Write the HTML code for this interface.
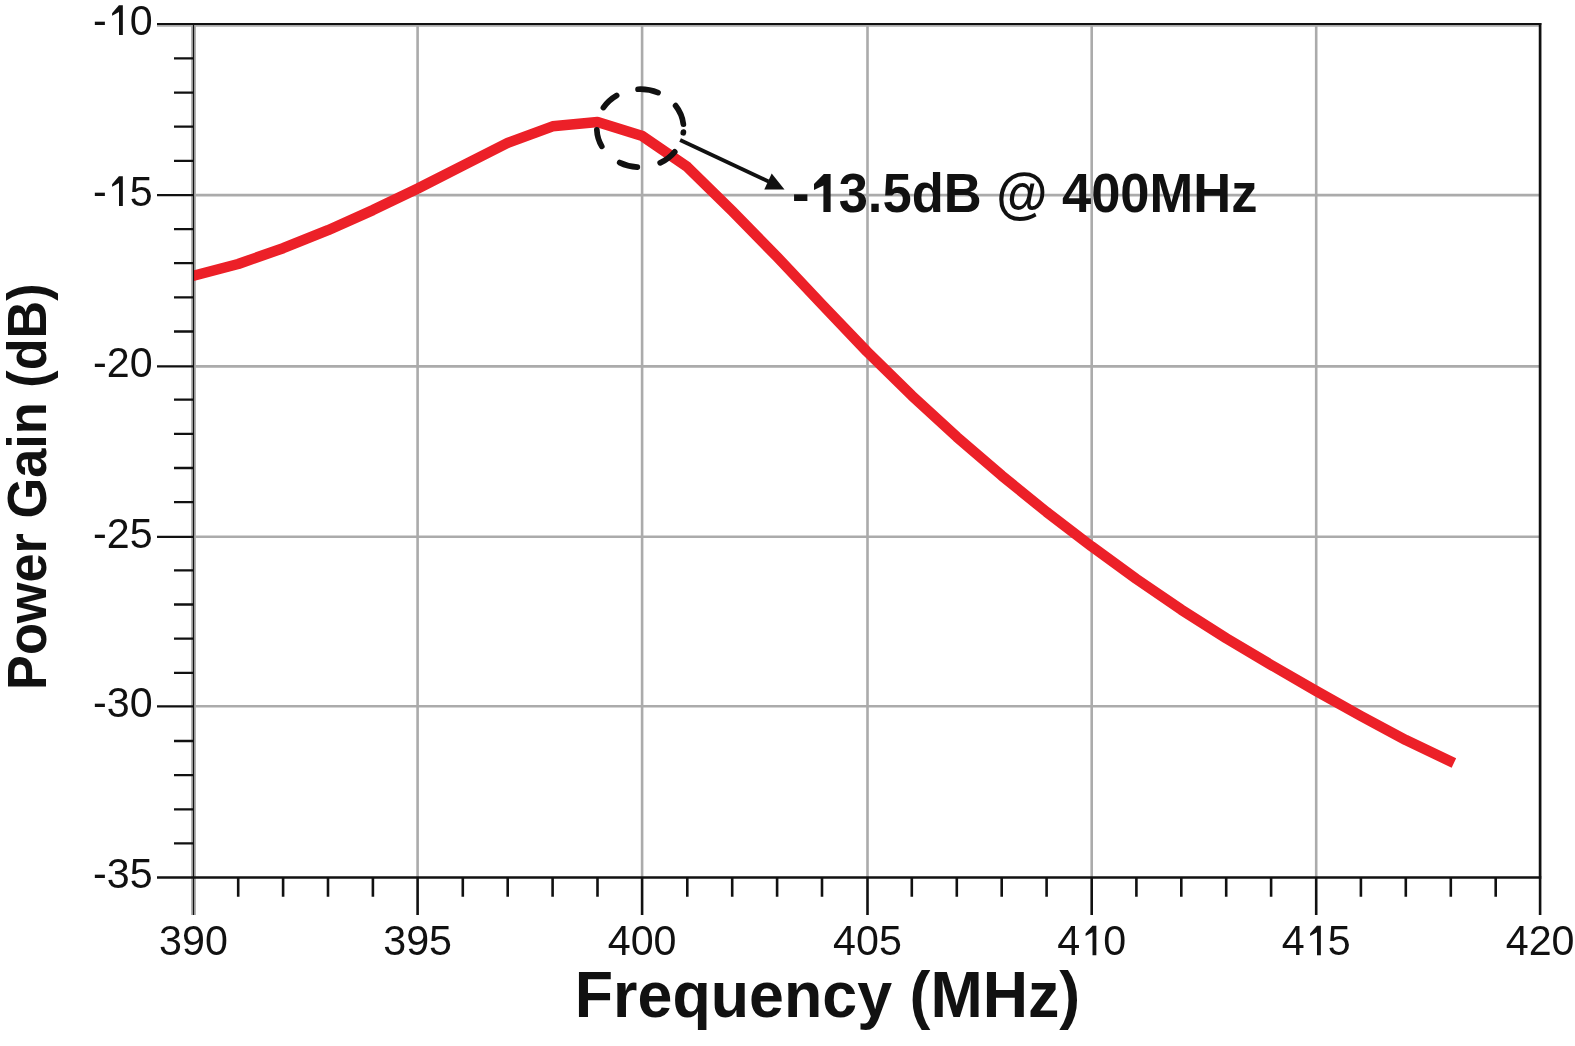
<!DOCTYPE html><html><head><meta charset="utf-8"><style>html,body{margin:0;padding:0;background:#fff;}svg{display:block;will-change:transform;}text{font-family:"Liberation Sans",sans-serif;}</style></head><body>
<svg width="1575" height="1046" viewBox="0 0 1575 1046">
<rect width="1575" height="1046" fill="#fff"/>
<path d="M417.6 24.1V877.5M642.1 24.1V877.5M867.5 24.1V877.5M1091.7 24.1V877.5M1316.2 24.1V877.5M193.5 195.1H1540.1M193.5 366.4H1540.1M193.5 536.8H1540.1M193.5 706.3H1540.1" stroke="#ababab" stroke-width="2.6" fill="none"/>
<path d="M193.5 24.1V915" stroke="#ababab" stroke-width="4.8" fill="none"/>
<path d="M157 25.7H1540.1" stroke="#ababab" stroke-width="2" fill="none"/>
<text transform="translate(792.00 212.00) scale(1 1.052)" font-size="52.5" font-weight="bold" fill="#111111" x="0.00">- 3.5dB @ 400MHz</text>
<path transform="translate(792.00 212.00) scale(0.025635 -0.026968) translate(682.0 0)" d="M543 0L824 0L824 1409L560 1409L176 1042L176 812L543 979Z" fill="#111111"/>
<clipPath id="c"><rect x="193.5" y="24.1" width="1346.6" height="853.4"/></clipPath>
<path d="M188.8 276.9 L238.2 264.0 L283.1 248.2 L328.0 230.2 L372.9 210.1 L417.8 188.5 L462.8 165.6 L507.7 142.9 L552.6 126.3 L597.5 122.1 L642.4 136.1 L687.3 166.9 L732.2 211.0 L777.1 256.9 L822.0 304.5 L866.9 351.5 L911.8 395.6 L956.8 436.9 L1001.7 475.6 L1046.6 512.0 L1091.5 546.3 L1136.4 579.0 L1181.3 609.7 L1226.2 638.2 L1271.1 664.9 L1316.0 690.9 L1360.9 716.0 L1405.8 740.1 L1453.9 763.0" stroke="#ec2028" stroke-width="10.5" fill="none" stroke-linejoin="round" stroke-linecap="butt" clip-path="url(#c)"/>
<path d="M157 24.1H1541.3" stroke="#111111" stroke-width="2"/>
<path d="M157 877.5H1541.3" stroke="#111111" stroke-width="2.6"/>
<path d="M1540.1 23.1V877.5" stroke="#111111" stroke-width="2.7"/>
<path d="M193.5 23.1V915" stroke="#111111" stroke-width="1.2"/>
<path d="M174 843.4H193.5M174 809.3H193.5M174 775.2H193.5M174 741.0H193.5M174 672.8H193.5M174 638.6H193.5M174 604.5H193.5M174 570.4H193.5M174 502.1H193.5M174 468.0H193.5M174 433.9H193.5M174 399.7H193.5M174 331.5H193.5M174 297.3H193.5M174 263.2H193.5M174 229.1H193.5M174 160.8H193.5M174 126.7H193.5M174 92.6H193.5M174 58.4H193.5M157 195.1H193.5M157 366.4H193.5M157 536.8H193.5M157 706.3H193.5" stroke="#111111" stroke-width="2.3" fill="none"/>
<path d="M238.2 877.5V896.7M283.1 877.5V896.7M328.0 877.5V896.7M372.9 877.5V896.7M462.8 877.5V896.7M507.7 877.5V896.7M552.6 877.5V896.7M597.5 877.5V896.7M687.3 877.5V896.7M732.2 877.5V896.7M777.1 877.5V896.7M822.0 877.5V896.7M911.8 877.5V896.7M956.8 877.5V896.7M1001.7 877.5V896.7M1046.6 877.5V896.7M1136.4 877.5V896.7M1181.3 877.5V896.7M1226.2 877.5V896.7M1271.1 877.5V896.7M1360.9 877.5V896.7M1405.8 877.5V896.7M1450.8 877.5V896.7M1495.7 877.5V896.7M417.6 877.5V915M642.1 877.5V915M867.5 877.5V915M1091.7 877.5V915M1316.2 877.5V915M1540.1 877.5V915" stroke="#111111" stroke-width="2.6" fill="none"/>
<text transform="translate(152.60 34.90) scale(0.957 1)" font-size="43.1" fill="#111111" x="-62.29">- 0</text>
<path transform="translate(152.60 34.90) scale(0.020140 -0.021045) translate(-2278.0 0)" d="M610 0L800 0L800 1405L605 1405L267 1031L267 907L610 1093Z" fill="#111111"/>
<text transform="translate(152.60 205.90) scale(0.957 1)" font-size="43.1" fill="#111111" x="-62.29">- 5</text>
<path transform="translate(152.60 205.90) scale(0.020140 -0.021045) translate(-2278.0 0)" d="M610 0L800 0L800 1405L605 1405L267 1031L267 907L610 1093Z" fill="#111111"/>
<text transform="translate(152.60 377.20) scale(0.957 1)" font-size="43.1" fill="#111111" x="-62.29">-20</text>
<text transform="translate(152.60 547.60) scale(0.957 1)" font-size="43.1" fill="#111111" x="-62.29">-25</text>
<text transform="translate(152.60 717.10) scale(0.957 1)" font-size="43.1" fill="#111111" x="-62.29">-30</text>
<text transform="translate(152.60 888.30) scale(0.957 1)" font-size="43.1" fill="#111111" x="-62.29">-35</text>
<text transform="translate(193.50 955.20) scale(0.957 1)" font-size="43.1" fill="#111111" x="-35.96">390</text>
<text transform="translate(417.60 955.20) scale(0.957 1)" font-size="43.1" fill="#111111" x="-35.96">395</text>
<text transform="translate(642.10 955.20) scale(0.957 1)" font-size="43.1" fill="#111111" x="-35.96">400</text>
<text transform="translate(867.50 955.20) scale(0.957 1)" font-size="43.1" fill="#111111" x="-35.96">405</text>
<text transform="translate(1091.70 955.20) scale(0.957 1)" font-size="43.1" fill="#111111" x="-35.96">4 0</text>
<path transform="translate(1091.70 955.20) scale(0.020140 -0.021045) translate(-569.5 0)" d="M610 0L800 0L800 1405L605 1405L267 1031L267 907L610 1093Z" fill="#111111"/>
<text transform="translate(1316.20 955.20) scale(0.957 1)" font-size="43.1" fill="#111111" x="-35.96">4 5</text>
<path transform="translate(1316.20 955.20) scale(0.020140 -0.021045) translate(-569.5 0)" d="M610 0L800 0L800 1405L605 1405L267 1031L267 907L610 1093Z" fill="#111111"/>
<text transform="translate(1540.10 955.20) scale(0.957 1)" font-size="43.1" fill="#111111" x="-35.96">420</text>
<text transform="translate(827.5 1017) scale(1 1.047)" font-size="62.75" font-weight="bold" text-anchor="middle" fill="#111111">Frequency (MHz)</text>
<text transform="translate(46 486.6) rotate(-90) scale(1 1.055)" font-size="52.3" font-weight="bold" text-anchor="middle" fill="#111111">Power Gain (dB)</text>
<path d="M683.38 132.09A43.4 39.0 0 0 1 683.30 132.79M674.74 151.81A43.4 39.0 0 0 1 660.18 162.82M637.31 167.11A43.4 39.0 0 0 1 619.70 162.58M601.80 146.38A43.4 39.0 0 0 1 596.84 129.88M603.39 107.54A43.4 39.0 0 0 1 616.65 95.44M638.06 89.25A43.4 39.0 0 0 1 658.02 92.64M675.59 105.63A43.4 39.0 0 0 1 683.37 124.21" stroke="#111111" stroke-width="5.7" fill="none" stroke-linecap="round"/>
<path d="M680.1 140 L768.5 181.5" stroke="#111111" stroke-width="3.8" fill="none"/>
<path d="M771.7 173.4 L764.3 189.6 L784.5 189.4 Z" fill="#111111"/>
</svg></body></html>
